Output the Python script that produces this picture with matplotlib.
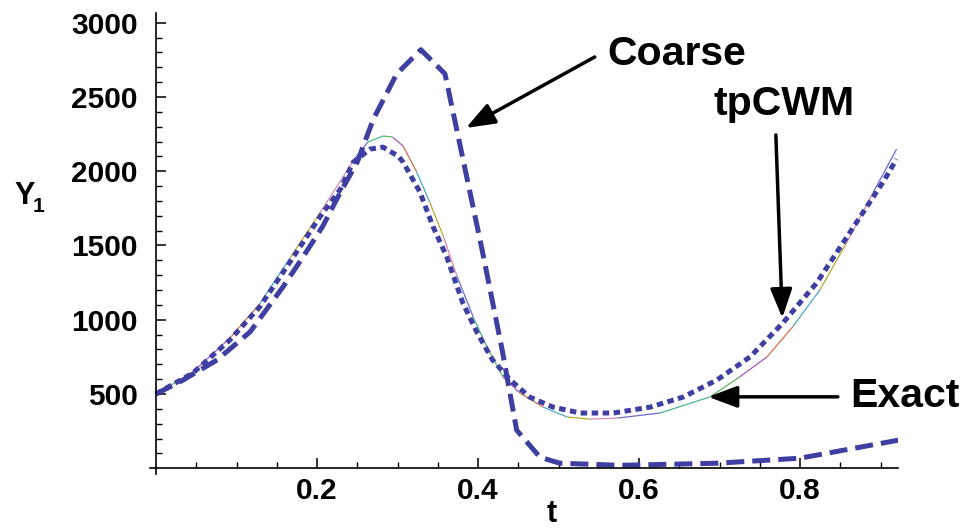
import matplotlib.pyplot as plt
import numpy as np

plt.rcParams['font.family'] = ['Liberation Sans', 'DejaVu Sans']
plt.rcParams['font.weight'] = 'bold'

# Coarse-grid solution (piecewise, heavy dashes)
t_coarse = [0.0, 0.034, 0.076, 0.117, 0.158, 0.183, 0.207, 0.229, 0.250, 0.270,
            0.299, 0.329, 0.359, 0.405, 0.430, 0.448, 0.477, 0.502, 0.576, 0.697,
            0.800, 0.922]
y_coarse = [500, 595, 730, 919, 1223, 1426, 1628, 1858, 2061, 2351,
            2655, 2818, 2655, 1473, 797, 257, 74, 34, 20, 34,
            68, 189]

# tpCWM solution (heavy dots)
t_tpcwm = [0.0, 0.046, 0.092, 0.129, 0.166, 0.204, 0.229, 0.245, 0.266, 0.282,
           0.301, 0.307, 0.328, 0.344, 0.361, 0.381, 0.399, 0.418, 0.440, 0.464,
           0.493, 0.527, 0.568, 0.614, 0.655, 0.697, 0.738, 0.779, 0.821, 0.862,
           0.903, 0.920]
y_tpcwm = [500, 642, 865, 1088, 1385, 1696, 1878, 2061, 2149, 2162,
           2101, 2061, 1858, 1628, 1426, 1115, 912, 730, 595, 480,
           412, 372, 372, 412, 480, 595, 750, 980, 1250, 1588,
           1926, 2081]

# Exact solution (thin multicoloured line)
t_exact = [0.0, 0.046, 0.092, 0.129, 0.166, 0.204, 0.245, 0.263, 0.282, 0.294,
           0.307, 0.324, 0.340, 0.357, 0.374, 0.394, 0.411, 0.431, 0.452, 0.481,
           0.511, 0.539, 0.573, 0.626, 0.688, 0.725, 0.759, 0.791, 0.825, 0.858,
           0.891, 0.920]
y_exact = [500, 649, 878, 1108, 1412, 1723, 2068, 2196, 2237, 2230,
           2169, 1993, 1791, 1561, 1291, 1020, 818, 615, 507, 412,
           345, 331, 338, 372, 480, 615, 750, 953, 1203, 1520,
           1858, 2149]

x_major = [0.2, 0.4, 0.6, 0.8]
y_major = [500, 1000, 1500, 2000, 2500, 3000]

BLUE = '#3f3fa2'
seg_colors = ['#5cb85c', '#a05cb8', '#d0704a', '#4aa8c8', '#b8a830', '#d889b0',
              '#6a6ad0', '#48b890']


def draw():
    fig = plt.figure(figsize=(9.65, 5.30), dpi=100)
    ax = fig.add_axes([0.1554, 0.1058, 0.7754, 0.8702])

    # exact curve, coloured piece by piece
    for i in range(len(t_exact) - 1):
        ax.plot(t_exact[i:i + 2], y_exact[i:i + 2], color=seg_colors[i % len(seg_colors)],
                lw=0.9, solid_capstyle='butt')

    ax.plot(t_tpcwm, y_tpcwm, color=BLUE, lw=3.6, dashes=(1.3, 0.9),
            dash_capstyle='butt')
    ax.plot(t_coarse, y_coarse, color=BLUE, lw=3.6, dashes=(3.6, 1.6),
            dash_capstyle='butt')

    ax.set_xlim(-0.0075, 0.922)
    ax.set_ylim(-38, 3067)

    for s in ['top', 'right']:
        ax.spines[s].set_visible(False)
    ax.spines['left'].set_position(('data', 0))
    ax.spines['bottom'].set_position(('data', 0))
    ax.spines['left'].set_linewidth(1.2)
    ax.spines['bottom'].set_linewidth(1.2)

    ax.set_xticks(x_major)
    ax.set_xticklabels([f'{v:.1f}' for v in x_major])
    ax.set_xticks(np.arange(0.05, 0.92, 0.05), minor=True)
    ax.set_yticks(y_major)
    ax.set_yticklabels([str(v) for v in y_major])
    ax.set_yticks(np.arange(100, 3060, 100), minor=True)

    ax.tick_params(which='major', direction='in', length=7, width=1.1,
                   labelsize=21.5)
    ax.tick_params(which='minor', direction='in', length=4.5, width=1.0)
    ax.tick_params(axis='x', which='major', pad=6)
    ax.tick_params(axis='y', which='major', pad=13)
    for lab in ax.get_xticklabels() + ax.get_yticklabels():
        lab.set_fontweight('bold')

    # axis labels
    W, H = 965.0, 530.0
    fig.text(552 / W, 1 - 529 / H, 't', ha='center', va='bottom',
             fontsize=22, fontweight='bold')
    fig.text(14 / W, 1 - 204 / H, 'Y', ha='left', va='baseline',
             fontsize=22, fontweight='bold')
    fig.text(33 / W, 1 - 212 / H, '1', ha='left', va='baseline',
             fontsize=15, fontweight='bold')

    # curve labels with arrows
    arrow = dict(arrowstyle='-|>,head_length=0.8,head_width=0.3', lw=2.5,
                 color='black', mutation_scale=22, shrinkA=0, shrinkB=0)
    ax.annotate('', xy=(0.385, 2291), xytext=(0.545, 2769), arrowprops=arrow)
    ax.annotate('', xy=(0.778, 1012), xytext=(0.770, 2244), arrowprops=arrow)
    ax.annotate('', xy=(0.686, 481), xytext=(0.847, 481), arrowprops=arrow)

    fig.text(677 / W, 1 - 65 / H, 'Coarse', ha='center', va='baseline',
             fontsize=29.5, fontweight='bold')
    fig.text(784 / W, 1 - 115 / H, 'tpCWM', ha='center', va='baseline',
             fontsize=29.5, fontweight='bold')
    fig.text(905 / W, 1 - 407 / H, 'Exact', ha='center', va='baseline',
             fontsize=29.5, fontweight='bold')

    fig.savefig('out.png', dpi=100)


if __name__ == '__main__':
    draw()
